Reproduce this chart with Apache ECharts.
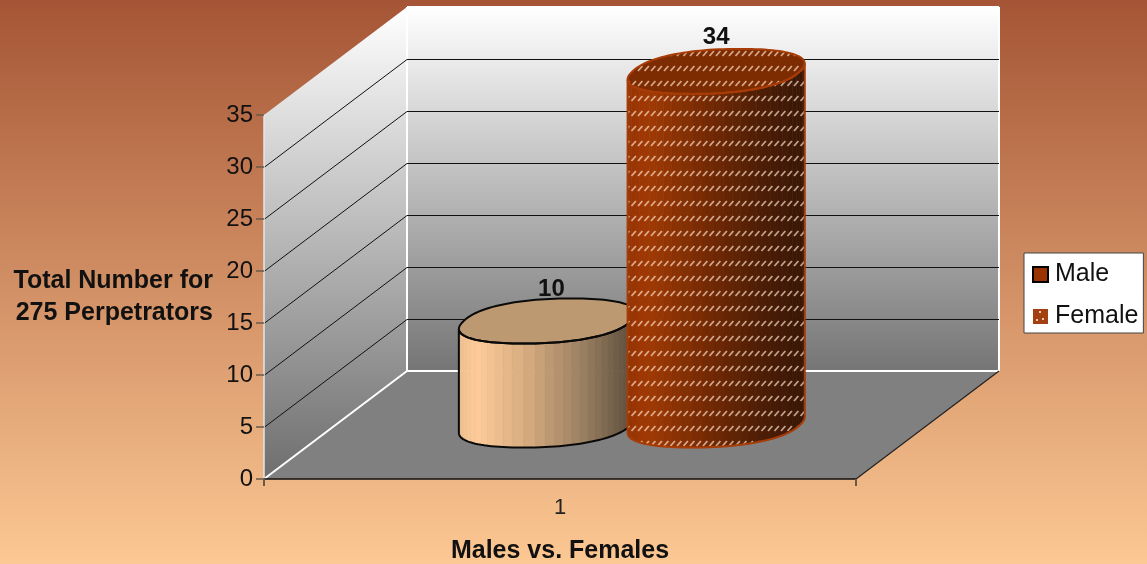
<!DOCTYPE html>
<html>
<head>
<meta charset="utf-8">
<style>html,body{margin:0;padding:0;background:#fff}#c{width:1147px;height:564px}</style>
<script src="https://cdn.jsdelivr.net/npm/echarts@6/dist/echarts.min.js"></script>
</head>
<body>
<div id="c"></div>
<script>
var categories = ['1'];
var maleValues = [10];
var femaleValues = [34];
var gridValues = [5, 10, 15, 20, 25, 30];
var yMax = 35;
var yTickStep = 5;

var FONT = '"Liberation Sans", Arial, sans-serif';
var DEPTH_X = 143, DEPTH_Y = 108;

function makePattern() {
  var c = document.createElement('canvas');
  c.width = 13; c.height = 15;
  var g = c.getContext('2d');
  g.strokeStyle = 'rgba(255,226,205,0.68)';
  g.lineWidth = 1.8;
  g.lineCap = 'butt';
  [1.0, 7.5].forEach(function (x) {
    g.beginPath(); g.moveTo(x, 11); g.lineTo(x + 4.4, 6); g.stroke();
  });
  return c;
}
var overlay = makePattern();
var legendPattern = (function () {
  var c = document.createElement('canvas');
  c.width = 15; c.height = 15;
  var g = c.getContext('2d');
  g.fillStyle = '#a33f10'; g.fillRect(0, 0, 15, 15);
  g.fillStyle = 'rgba(255,226,205,0.85)';
  g.fillRect(6, 2, 2, 2); g.fillRect(3, 10, 2, 2); g.fillRect(9, 9, 2, 2);
  return c;
})();

function hex(c) { return [parseInt(c.substr(1, 2), 16), parseInt(c.substr(3, 2), 16), parseInt(c.substr(5, 2), 16)]; }
function ramp(stops, t) {
  for (var i = 1; i < stops.length; i++) {
    if (t <= stops[i][0]) {
      var a = stops[i - 1], b = stops[i], f = (t - a[0]) / (b[0] - a[0]);
      var x = hex(a[1]), y = hex(b[1]);
      return 'rgb(' + [0, 1, 2].map(function (k) { return Math.round(x[k] + (y[k] - x[k]) * f); }).join(',') + ')';
    }
  }
  return stops[stops.length - 1][1];
}

function wallsItem(params, api) {
  var o = api.coord([0, 0]);
  var top = api.coord([0, yMax]);
  var w = api.size([1, 0])[0];
  var x0 = o[0] - w / 2, y0 = o[1], yt = top[1];
  var bx = x0 + DEPTH_X, by = y0 - DEPTH_Y, bt = yt - DEPTH_Y, rx = x0 + w + DEPTH_X;
  function line(a, b, col, lw) {
    return { type: 'line', shape: { x1: a[0], y1: a[1], x2: b[0], y2: b[1] }, style: { stroke: col, lineWidth: lw } };
  }
  return {
    type: 'group',
    children: [
      { type: 'polygon', shape: { points: [[x0, y0], [bx, by], [rx, by], [x0 + w, y0]] }, style: { fill: '#808080' } },
      { type: 'polygon', shape: { points: [[x0, y0], [x0, yt], [bx, bt], [bx, by]] },
        style: { fill: new echarts.graphic.LinearGradient(0, 0, 0, 1, [{ offset: 0, color: '#ffffff' }, { offset: 1, color: '#6e6e6e' }]) } },
      { type: 'rect', shape: { x: bx, y: bt, width: rx - bx, height: by - bt },
        style: { fill: new echarts.graphic.LinearGradient(0, 0, 0, 1, [{ offset: 0, color: '#ffffff' }, { offset: 1, color: '#757575' }]) } },
      line([bx, bt], [rx, bt], '#ffffff', 2),
      line([rx, bt], [rx, by], '#ffffff', 2),
      line([bx, by], [rx, by], '#ffffff', 2),
      line([bx, bt], [bx, by], '#ffffff', 2),
      line([x0, y0], [bx, by], '#ffffff', 2),
      line([x0 + w, y0], [rx, by], '#222222', 1.2)
    ]
  };
}

function gridItem(params, api) {
  var p = api.coord([0, api.value(1)]);
  var w = api.size([1, 0])[0];
  var x0 = p[0] - w / 2, y = Math.round(p[1]) + 0.5;
  return {
    type: 'polyline',
    shape: { points: [[x0, y], [x0 + DEPTH_X, y - DEPTH_Y], [x0 + w + DEPTH_X, y - DEPTH_Y]] },
    style: { stroke: '#111111', lineWidth: 1, fill: null }
  };
}

function spow(v) { return (v < 0 ? -1 : 1) * Math.pow(Math.abs(v), 0.88); }

function cylinderItem(opt) {
  return function (params, api) {
    var t = api.coord([0, api.value(1)]);
    var b = api.coord([0, 0]);
    var band = api.size([1, 0])[0];
    var cx = t[0] + DEPTH_X / 2 + band * opt.shift;
    var baseY = b[1] - DEPTH_Y / 2;
    var topY = t[1] - DEPTH_Y / 2;
    var ax = band * 0.1415, bxx = band * 0.04, ry = 22.5;
    function unit(th) {
      var c = spow(Math.cos(th)), s = spow(Math.sin(th));
      return [ax * c + bxx * s, -ry * s];
    }
    var M = 120, ring = [], i, minI = 0, maxI = 0;
    for (i = 0; i < M; i++) {
      ring.push(unit(i * 2 * Math.PI / M));
      if (ring[i][0] < ring[minI][0]) minI = i;
      if (ring[i][0] > ring[maxI][0]) maxI = i;
    }
    var left = ring[minI][0], right = ring[maxI][0];
    // front arc: walk forward from the leftmost to the rightmost sample, through the lower half
    var front = [];
    for (i = minI; ; i = (i + 1) % M) { front.push(ring[i]); if (i === maxI) break; }
    function at(u, cy) { return [cx + u[0], cy + u[1]]; }
    var children = [];
    for (i = 0; i < front.length - 1; i += 2) {
      var u1 = front[i], u2 = front[Math.min(i + 2, front.length - 1)];
      var col = ramp(opt.stops, ((u1[0] + u2[0]) / 2 - left) / (right - left));
      children.push({ type: 'polygon', shape: { points: [at(u1, topY), at(u2, topY), at(u2, baseY), at(u1, baseY)] }, style: { fill: col, stroke: col, lineWidth: 0.6 } });
    }
    var body = front.map(function (u) { return at(u, topY); })
      .concat(front.slice().reverse().map(function (u) { return at(u, baseY); }));
    var topPts = ring.map(function (u) { return at(u, topY); });
    if (opt.pattern) {
      children.push({ type: 'polygon', shape: { points: body }, style: { fill: { image: opt.pattern, repeat: 'repeat' } } });
    }
    children.push({ type: 'polygon', shape: { points: topPts }, style: { fill: opt.topColor } });
    if (opt.pattern) {
      children.push({ type: 'polygon', shape: { points: topPts }, style: { fill: { image: opt.pattern, repeat: 'repeat' } } });
    }
    children.push({ type: 'polygon', shape: { points: body }, style: { fill: null, stroke: opt.edge, lineWidth: opt.edgeWidth } });
    children.push({ type: 'polygon', shape: { points: topPts }, style: { fill: null, stroke: opt.edge, lineWidth: opt.edgeWidth } });
    children.push({
      type: 'text',
      style: { x: cx + opt.labelDx, y: topY - opt.labelDy, text: String(api.value(1)), font: 'bold 24px ' + FONT, fill: '#111111', align: 'center', verticalAlign: 'middle' }
    });
    return { type: 'group', children: children };
  };
}

var maleStops = [[0, '#eebf90'], [0.1, '#ffcc99'], [0.4, '#d3a97d'], [0.7, '#9a8062'], [1, '#5a4a3a']];
var femaleStops = [[0, '#963404'], [0.12, '#a03a04'], [0.45, '#742a04'], [0.75, '#4e1e06'], [1, '#381606']];

var chart = echarts.init(document.getElementById('c'), null, { renderer: 'canvas' });
chart.setOption({
  animation: false,
  backgroundColor: new echarts.graphic.LinearGradient(0, 0, 0, 1, [
    { offset: 0, color: '#a55535' }, { offset: 1, color: '#fcc893' }
  ]),
  grid: { left: 264, right: 291, top: 115, bottom: 85, outerBoundsMode: 'none' },
  legend: {
    orient: 'vertical', left: 1024, top: 253,
    data: ['Male', 'Female'],
    backgroundColor: '#ffffff', borderColor: '#444444', borderWidth: 1, borderRadius: 0,
    padding: [9, 5, 4, 8], itemGap: 17, itemWidth: 15, itemHeight: 15,
    icon: 'rect',
    textStyle: { fontFamily: FONT, fontSize: 25, color: '#111111', padding: [0, 0, 0, 2] }
  },
  xAxis: {
    type: 'category', data: categories, z: 10,
    axisLine: { lineStyle: { color: '#111111', width: 1.5 } },
    axisTick: { show: true, length: 7, alignWithLabel: false, lineStyle: { color: '#6b5a4a', width: 2 } },
    axisLabel: { fontFamily: FONT, fontSize: 22, color: '#222222', margin: 18 },
    name: 'Males vs. Females', nameLocation: 'middle', nameGap: 60,
    nameTextStyle: { fontFamily: FONT, fontWeight: 'bold', fontSize: 25, color: '#111111' }
  },
  yAxis: {
    type: 'value', min: 0, max: yMax, interval: yTickStep, z: 10,
    splitLine: { show: false },
    axisLine: { show: true, lineStyle: { color: '#e6e6e6', width: 1.5 } },
    axisTick: { show: true, length: 8, lineStyle: { color: '#6b5a4a', width: 1.5 } },
    axisLabel: { fontFamily: FONT, fontSize: 24, color: '#111111', margin: 11, padding: [5, 0, 0, 0] },
    name: 'Total Number for\n275 Perpetrators', nameLocation: 'middle', nameRotate: 0, nameGap: 51,
    nameTextStyle: { fontFamily: FONT, fontWeight: 'bold', fontSize: 25, color: '#111111', lineHeight: 32, align: 'right' }
  },
  series: [
    { type: 'custom', name: 'walls', renderItem: wallsItem, data: [[0, 0]], encode: { x: 0, y: 1 }, z: 1, silent: true },
    { type: 'custom', name: 'gridlines', renderItem: gridItem, data: gridValues.map(function (v) { return [0, v]; }), encode: { x: 0, y: 1 }, z: 2, silent: true },
    {
      type: 'custom', name: 'Male', z: 3,
      itemStyle: { color: '#993300', borderColor: '#000000', borderWidth: 2 },
      renderItem: cylinderItem({ shift: -0.142, stops: maleStops, topColor: '#bd9972', edge: '#0a0a0a', edgeWidth: 2, labelDx: 4, labelDy: 32 }),
      data: maleValues.map(function (v, i) { return [i, v]; }), encode: { x: 0, y: 1 }
    },
    {
      type: 'custom', name: 'Female', z: 4,
      itemStyle: { color: { image: legendPattern, repeat: 'repeat' } },
      renderItem: cylinderItem({ shift: 0.143, stops: femaleStops, topColor: '#7d2b00', edge: '#a83c06', edgeWidth: 2, pattern: overlay, labelDx: 0, labelDy: 34 }),
      data: femaleValues.map(function (v, i) { return [i, v]; }), encode: { x: 0, y: 1 }
    }
  ]
});
</script>
</body>
</html>
